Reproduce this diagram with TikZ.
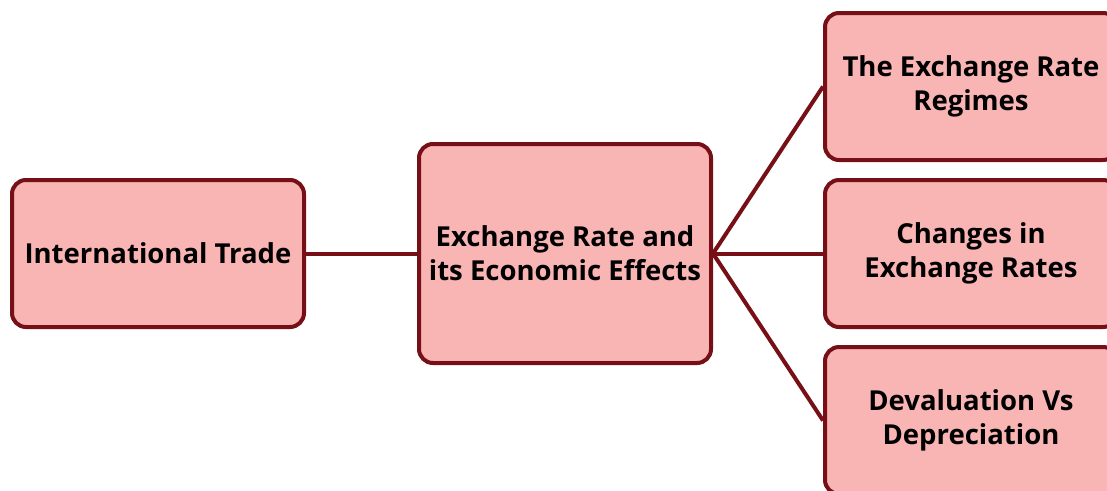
\documentclass[tikz,border=0pt]{standalone}
\usepackage{fontspec}
\setmainfont{Open Sans}
\usetikzlibrary{positioning}

\definecolor{boxfill}{HTML}{F9B4B4}
\definecolor{boxline}{HTML}{761016}

\begin{document}
\begin{tikzpicture}[
    x=1pt,y=-1pt,
    topic box/.style={rectangle,rounded corners=14pt,fill=boxfill,draw=boxline,line width=4pt,
        minimum width=292pt,minimum height=147pt,align=center,inner sep=0pt,
        font=\fontsize{27.5}{34}\selectfont\bfseries},
    main box/.style={topic box,minimum height=219pt},
    link/.style={boxline,line width=4pt}
]

% Área visível
\useasboundingbox (0,0) rectangle (1107,490);
\clip (0,0) rectangle (1107,490);

% Caixas
\node[topic box] (trade) at (158,253.5) {International Trade};
\node[main box] (rate) at (565,253.5) {Exchange Rate and\\its Economic Effects};
\node[topic box] (regimes) at (971,86.5) {The Exchange Rate\\Regimes};
\node[topic box] (changes) at (971,253.5) {Changes in\\Exchange Rates};
\node[topic box] (deval) at (971,420.5) {Devaluation Vs\\Depreciation};

% Ligações
\draw[link] (trade.east) -- (rate.west);
\draw[link] (rate.east) -- (regimes.west);
\draw[link] (rate.east) -- (changes.west);
\draw[link] (rate.east) -- (deval.west);

\end{tikzpicture}
\end{document}
